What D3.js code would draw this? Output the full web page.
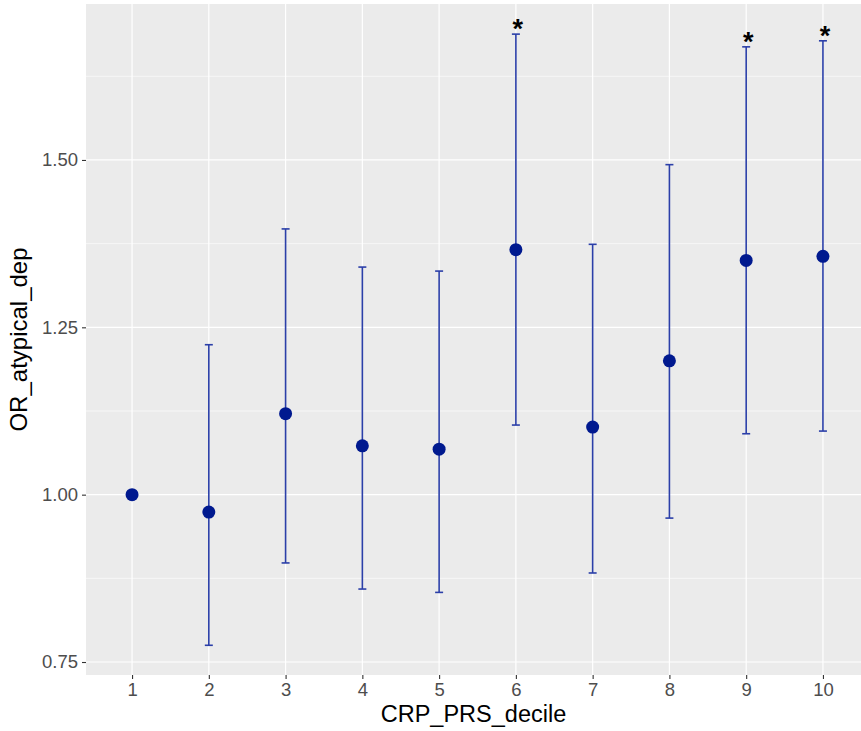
<!DOCTYPE html>
<html>
<head>
    <meta charset="utf-8">
    <script src="https://cdn.jsdelivr.net/npm/d3@7"></script>
    <style>
        body { margin: 0; background: #fff; }
        text { font-family: "Liberation Sans", Arial, sans-serif; }
    </style>
</head>
<body>
<div class="chart-area"></div>
<script>
    // values
    var deciles = [1, 2, 3, 4, 5, 6, 7, 8, 9, 10];
    var oddsRatio = [1.000, 0.974, 1.121, 1.073, 1.068, 1.366, 1.101, 1.200, 1.350, 1.356];
    var lowerCI = [null, 0.775, 0.898, 0.859, 0.854, 1.104, 0.883, 0.965, 1.091, 1.095];
    var upperCI = [null, 1.224, 1.397, 1.340, 1.334, 1.688, 1.374, 1.493, 1.669, 1.678];
    var significant = [false, false, false, false, false, true, false, false, true, true];
    var yTicks = [0.75, 1.00, 1.25, 1.50];
    var yMinor = [0.625, 0.875, 1.125, 1.375, 1.625];

    var W = 861, H = 731;
    var panel = { left: 86, right: 869, top: 4, bottom: 675 };

    var svg = d3.select(".chart-area")
        .append("svg")
        .attr("width", W)
        .attr("height", H);

    var x = d3.scaleLinear()
        .domain([0.4, 10.6])
        .range([panel.left, panel.right]);

    var y = d3.scaleLinear()
        .domain([0.7306, 1.733])
        .range([panel.bottom, panel.top]);

    // panel background
    svg.append("rect")
        .attr("x", panel.left)
        .attr("y", panel.top)
        .attr("width", panel.right - panel.left)
        .attr("height", panel.bottom - panel.top)
        .attr("fill", "#EBEBEB");

    var grid = svg.append("g");
    grid.selectAll(".minor")
        .data(yMinor)
        .enter()
        .append("line")
        .attr("x1", panel.left).attr("x2", panel.right)
        .attr("y1", function(d){ return y(d); })
        .attr("y2", function(d){ return y(d); })
        .attr("stroke", "#fff")
        .attr("stroke-width", 0.6);
    grid.selectAll(".major")
        .data(yTicks)
        .enter()
        .append("line")
        .attr("x1", panel.left).attr("x2", panel.right)
        .attr("y1", function(d){ return y(d); })
        .attr("y2", function(d){ return y(d); })
        .attr("stroke", "#fff")
        .attr("stroke-width", 1.2);
    grid.selectAll(".vmajor")
        .data(deciles)
        .enter()
        .append("line")
        .attr("y1", panel.top).attr("y2", panel.bottom)
        .attr("x1", function(d){ return x(d); })
        .attr("x2", function(d){ return x(d); })
        .attr("stroke", "#fff")
        .attr("stroke-width", 1.2);

    // axes
    var yAxis = svg.append("g")
        .attr("transform", "translate(" + panel.left + ",0)")
        .call(d3.axisLeft(y).tickValues(yTicks).tickFormat(d3.format(".2f")).tickSize(4).tickPadding(4));
    var xAxis = svg.append("g")
        .attr("transform", "translate(0," + panel.bottom + ")")
        .call(d3.axisBottom(x).tickValues(deciles).tickFormat(d3.format("d")).tickSize(4).tickPadding(4));

    [xAxis, yAxis].forEach(function(a){
        a.select(".domain").remove();
        a.selectAll(".tick line").attr("stroke", "#333333").attr("stroke-width", 1.1);
        a.selectAll(".tick text")
            .attr("fill", "#4D4D4D")
            .style("font-size", "18.5px")
            .style("font-family", "Liberation Sans, Arial, sans-serif");
    });

    var rows = deciles.map(function(d, i){
        return { decile: d, or: oddsRatio[i], lo: lowerCI[i], hi: upperCI[i], sig: significant[i] };
    });
    var withCI = rows.filter(function(d){ return d.lo !== null; });

    var barColor = "#2B3FA8";
    var capHalf = 4;

    var eb = svg.append("g").selectAll("g")
        .data(withCI)
        .enter()
        .append("g");
    eb.append("line")
        .attr("x1", function(d){ return x(d.decile); })
        .attr("x2", function(d){ return x(d.decile); })
        .attr("y1", function(d){ return y(d.lo); })
        .attr("y2", function(d){ return y(d.hi); })
        .attr("stroke", barColor)
        .attr("stroke-width", 1.6);
    eb.append("line")
        .attr("x1", function(d){ return x(d.decile) - capHalf; })
        .attr("x2", function(d){ return x(d.decile) + capHalf; })
        .attr("y1", function(d){ return y(d.hi); })
        .attr("y2", function(d){ return y(d.hi); })
        .attr("stroke", barColor)
        .attr("stroke-width", 1.6);
    eb.append("line")
        .attr("x1", function(d){ return x(d.decile) - capHalf; })
        .attr("x2", function(d){ return x(d.decile) + capHalf; })
        .attr("y1", function(d){ return y(d.lo); })
        .attr("y2", function(d){ return y(d.lo); })
        .attr("stroke", barColor)
        .attr("stroke-width", 1.6);

    svg.append("g").selectAll("circle")
        .data(rows)
        .enter()
        .append("circle")
        .attr("cx", function(d){ return x(d.decile); })
        .attr("cy", function(d){ return y(d.or); })
        .attr("r", 6.5)
        .attr("fill", "#00198F");

    svg.append("g").selectAll("text")
        .data(rows.filter(function(d){ return d.sig; }))
        .enter()
        .append("text")
        .attr("x", function(d){ return x(d.decile) + 2; })
        .attr("y", function(d){ return y(d.hi) + 4; })
        .attr("text-anchor", "middle")
        .attr("font-size", "27px")
        .attr("font-weight", "bold")
        .attr("fill", "#000")
        .text("*");

    // axis titles
    svg.append("text")
        .attr("x", (panel.left + 861) / 2)
        .attr("y", 722)
        .attr("text-anchor", "middle")
        .attr("font-size", "23.5px")
        .attr("fill", "#000")
        .text("CRP_PRS_decile");

    svg.append("text")
        .attr("transform", "translate(27," + ((panel.top + panel.bottom) / 2) + ") rotate(-90)")
        .attr("text-anchor", "middle")
        .attr("font-size", "24px")
        .attr("fill", "#000")
        .text("OR_atypical_dep");
</script>
</body>
</html>
